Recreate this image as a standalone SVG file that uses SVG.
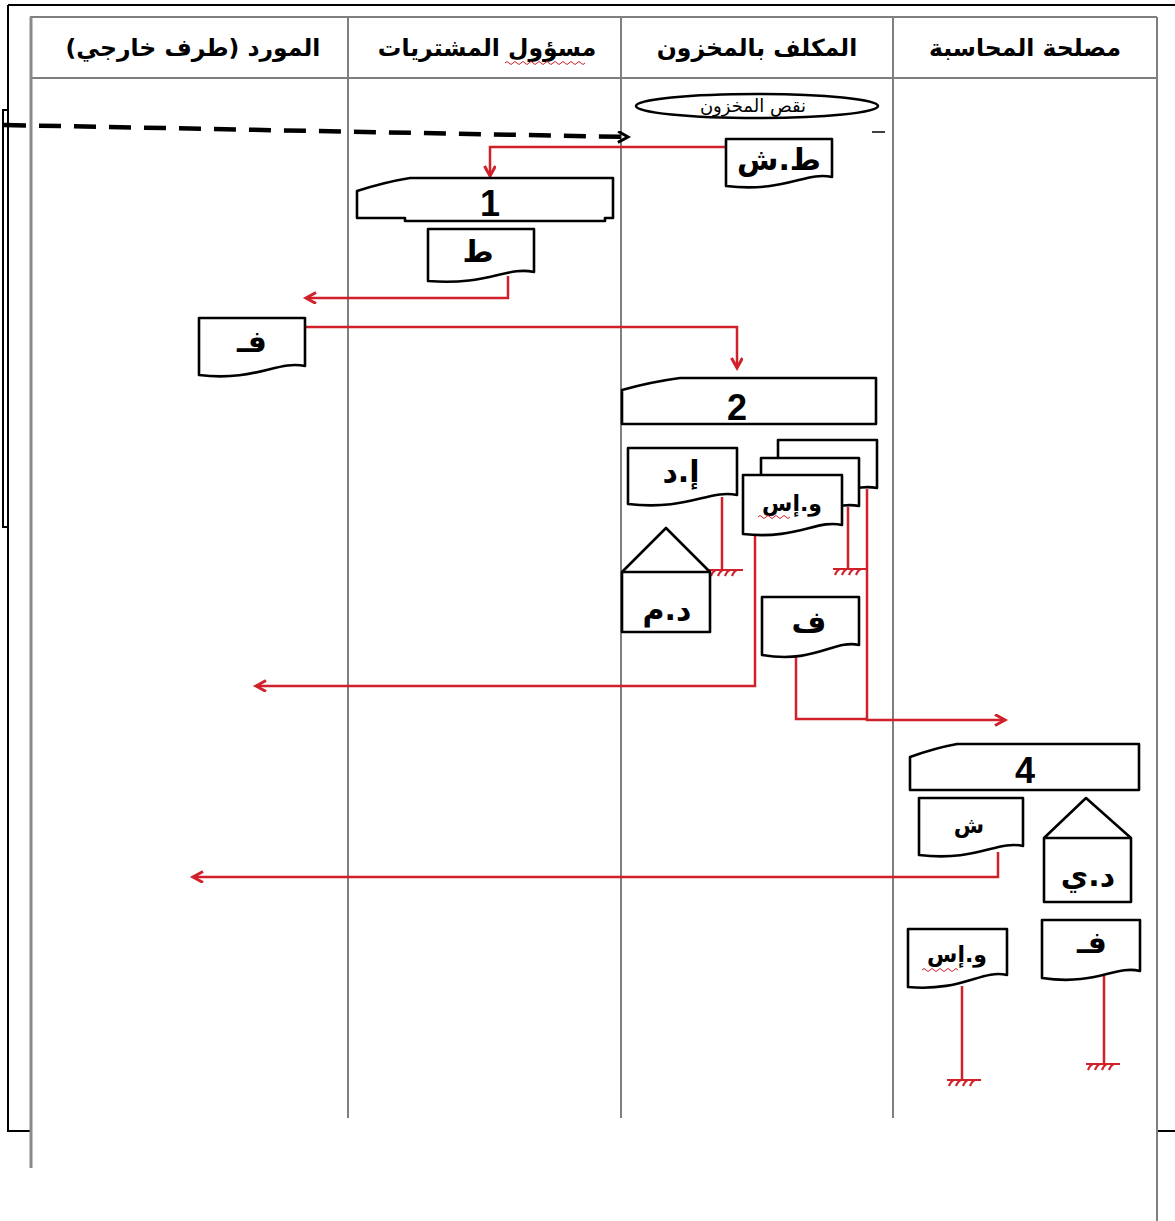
<svg xmlns="http://www.w3.org/2000/svg" width="1175" height="1221" viewBox="0 0 1175 1221">
<style>
.frame{fill:none;stroke:#000;stroke-width:2}
.grid{fill:none;stroke:#7f7f7f;stroke-width:2}
.shape{fill:#fff;stroke:#000;stroke-width:2.6;stroke-linejoin:round}
.red{fill:none;stroke:#d0202a;stroke-width:2.5}
.dash{fill:none;stroke:#000;stroke-width:4.5;stroke-dasharray:22 13}
.hd{font-family:"DejaVu Sans",sans-serif;font-weight:bold;font-size:23.5px;fill:#000;text-anchor:middle;direction:rtl}
.lb{font-family:"DejaVu Sans",sans-serif;font-weight:bold;font-size:30px;fill:#000;text-anchor:middle;direction:rtl}
.sm{font-family:"DejaVu Sans",sans-serif;font-weight:bold;font-size:22px;fill:#000;text-anchor:middle;direction:rtl}
.num{font-family:"Liberation Sans",Arial,sans-serif;font-weight:bold;font-size:36px;fill:#000;text-anchor:middle}
.sq{fill:none;stroke:#d0202a;stroke-width:1}
</style>
<defs>
<marker id="ar" markerUnits="userSpaceOnUse" markerWidth="16" markerHeight="16" refX="11" refY="6" orient="auto">
<path d="M1,0.5 L11,6 L1,11.5" fill="none" stroke="#d0202a" stroke-width="3"/>
</marker>
<marker id="ab" markerUnits="userSpaceOnUse" markerWidth="16" markerHeight="16" refX="11" refY="6" orient="auto">
<path d="M1,0.5 L11,6 L1,11.5" fill="none" stroke="#000" stroke-width="3"/>
</marker>
<path id="gnd" d="M-17,0 H17 M-15,6 Q-13,1 -10,0 M-8,6 Q-6,1 -3,0 M-1,6 Q1,1 4,0 M6,6 Q8,1 11,0" fill="none" stroke="#d0202a" stroke-width="2.2"/>
</defs>
<rect width="1175" height="1221" fill="#fff"/>
<g id="frame">
<path class="frame" d="M8,5 H1175 M8,5 V1131 H30 M1157,1131 H1175 M8,110 H3 V527 H8"/>
</g>
<g id="lanes">
<path class="grid" d="M30,17 H1157 M30,78 H1157 M348,17 V1118 M621,17 V1118 M893,17 V1118 M1157,17 V1221"/>
<path d="M31,17 V1168" fill="none" stroke="#8a8a8a" stroke-width="3"/>
<text class="hd" x="193" y="56">المورد (طرف خارجي)</text>
<text class="hd" x="487" y="56">مسؤول المشتريات</text>
<text class="hd" x="757" y="56">المكلف بالمخزون</text>
<text class="hd" x="1025" y="56">مصلحة المحاسبة</text>
<path class="sq" d="M505,63 q2,-3 4,0 t4,0 t4,0 t4,0 t4,0 t4,0 t4,0 t4,0 t4,0 t4,0 t4,0 t4,0 t4,0 t4,0 t4,0 t4,0 t4,0 t4,0 t4,0 t4,0"/>
</g>
<g id="connectors">
<path class="dash" d="M4,125 L628,137" marker-end="url(#ab)"/>
<path class="red" d="M726,147 H490 V176" marker-end="url(#ar)"/>
<path class="red" d="M508,276 V298 H306" marker-end="url(#ar)"/>
<path class="red" d="M305,327 H737 V368" marker-end="url(#ar)"/>
<path class="red" d="M722,497 V570"/>
<path class="red" d="M848,507 V569"/>
<path class="red" d="M867,489 V720 H1005" marker-end="url(#ar)"/>
<path class="red" d="M796,657 V719 H868"/>
<path class="red" d="M755,535 V686 H256" marker-end="url(#ar)"/>
<path class="red" d="M998,852 V877 H193" marker-end="url(#ar)"/>
<path class="red" d="M962,986 V1080"/>
<path class="red" d="M1104,976 V1064"/>
<use href="#gnd" x="726" y="570"/>
<use href="#gnd" x="850" y="569"/>
<use href="#gnd" x="964" y="1080"/>
<use href="#gnd" x="1103" y="1064"/>
</g>
<g id="n_start">
<ellipse class="shape" cx="757" cy="106" rx="121" ry="12" stroke-width="2"/>
<text x="753" y="112" font-family="DejaVu Sans,sans-serif" font-size="18" text-anchor="middle" direction="rtl">نقص المخزون</text>
<path d="M872,132 H885" stroke="#000" stroke-width="1.5"/>
</g>
<g id="n_tsh">
<path class="shape" d="M726,139 H832 V177 C806,171 785,193 726,186 Z"/>
<text class="lb" x="779" y="170">ط.ش</text>
</g>
<g id="n_p1">
<path class="shape" d="M357,191 Q385,182 410,178 H613 V218 H605 V221 H405 V218 H357 Z"/>
<text class="num" x="490" y="216">1</text>
</g>
<g id="n_t">
<path class="shape" d="M428,229 H534 V272 C507,266 487,286 428,281 Z"/>
<text class="lb" x="478" y="262">ط</text>
</g>
<g id="n_f1">
<path class="shape" d="M199,318 H305 V366 C278,360 255,382 199,375 Z"/>
<text class="lb" x="252" y="352">فـ</text>
</g>
<g id="n_p2">
<path class="shape" d="M622,390 Q650,382 680,378 H876 V424 H622 Z"/>
<text class="num" x="737" y="420">2</text>
</g>
<g id="n_id">
<path class="shape" d="M628,448 H737 V495 C710,489 688,511 628,504 Z"/>
<text class="lb" x="681" y="482">إ.د</text>
</g>
<g id="n_dm">
<path class="shape" d="M622,572 L666,528 L710,572 Z M622,572 H710 V632 H622 Z"/>
<text class="lb" x="667" y="620">د.م</text>
</g>
<g id="n_wis">
<path class="shape" d="M778,440 H877 V488 C852,483 833,500 778,495 Z"/>
<path class="shape" d="M761,458 H859 V506 C835,501 815,518 761,513 Z"/>
<path class="shape" d="M743,475 H842 V525 C817,519 797,540 743,534 Z"/>
<text class="sm" x="792" y="511">و.إس</text>
<path class="sq" d="M758,517 q2,-3 4,0 t4,0 t4,0 t4,0 t4,0 t4,0 t4,0 t4,0"/>
</g>
<g id="n_f2">
<path class="shape" d="M762,597 H859 V645 C835,639 815,664 762,655 Z"/>
<text class="lb" x="809" y="632">ف</text>
</g>
<g id="n_p4">
<path class="shape" d="M910,757 Q935,748 957,744 H1139 V790 H910 Z"/>
<text class="num" x="1025" y="783">4</text>
</g>
<g id="n_sh">
<path class="shape" d="M919,798 H1023 V846 C997,840 977,862 919,855 Z"/>
<text class="sm" x="969" y="833">ش</text>
</g>
<g id="n_dy">
<path class="shape" d="M1044,838 L1086,798 L1131,838 Z M1044,838 H1131 V902 H1044 Z"/>
<text class="lb" x="1088" y="886">د.ي</text>
</g>
<g id="n_f3">
<path class="shape" d="M1042,920 H1140 V971 C1115,965 1096,986 1042,978 Z"/>
<text class="lb" x="1092" y="953">فـ</text>
</g>
<g id="n_wis2">
<path class="shape" d="M908,929 H1007 V975 C982,969 962,992 908,987 Z"/>
<text class="sm" x="957" y="962">و.إس</text>
<path class="sq" d="M922,970 q2,-3 4,0 t4,0 t4,0 t4,0 t4,0 t4,0 t4,0 t4,0 t4,0"/>
</g>
</svg>
